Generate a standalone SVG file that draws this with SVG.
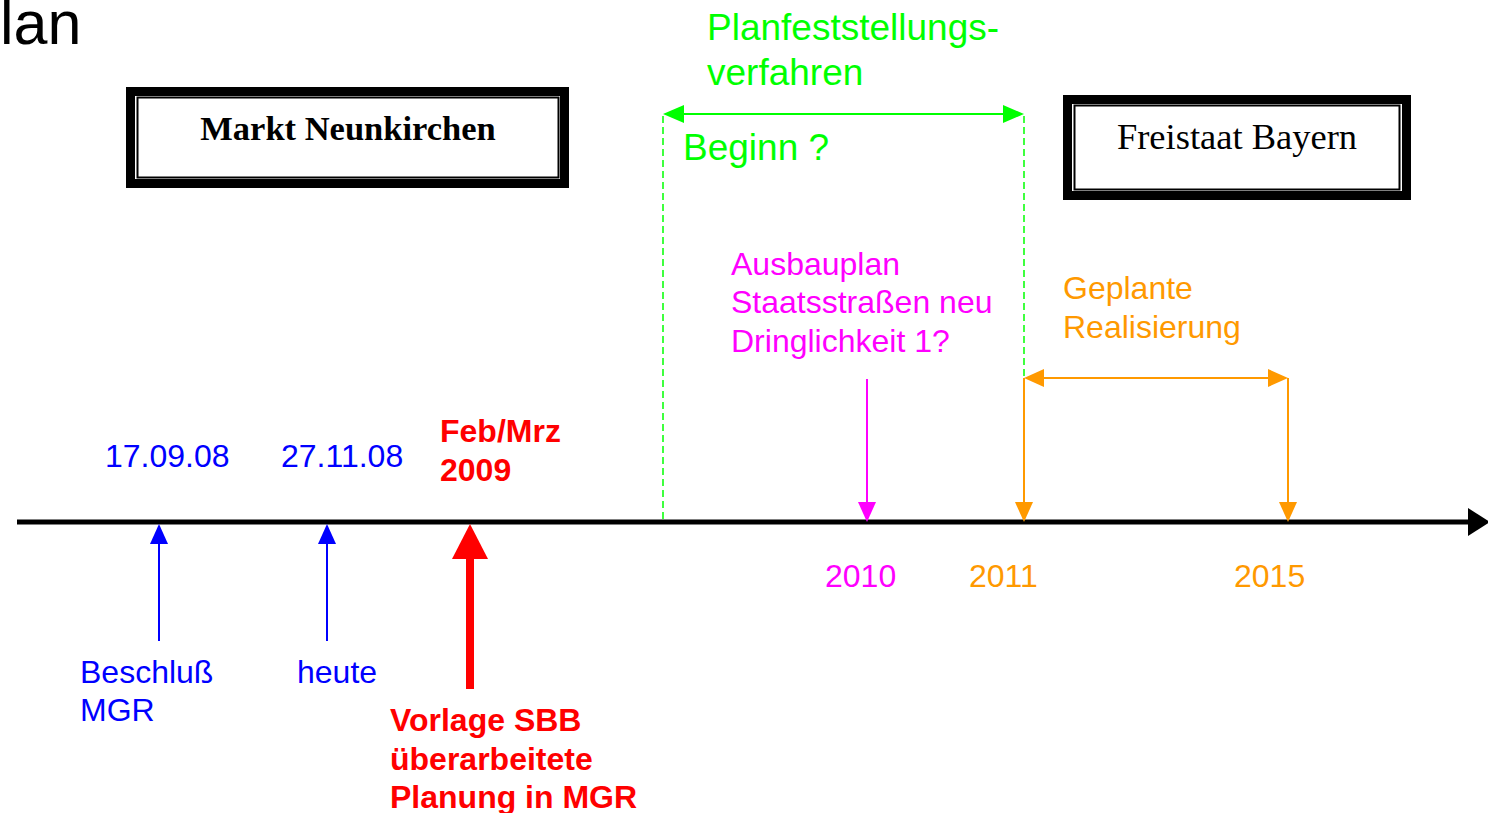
<svg xmlns="http://www.w3.org/2000/svg" width="1488" height="813" viewBox="0 0 1488 813">
<defs>
<style>
.sans{font-family:"Liberation Sans",Arial,sans-serif;}
.serif{font-family:"Liberation Serif","Times New Roman",serif;}
.t32{font-size:32px;}
.t37{font-size:37px;}
.b{font-weight:bold;}
.green{fill:#00FF00;}
.mag{fill:#FF00FF;}
.orange{fill:#FF9900;}
.blue{fill:#0000FF;}
.red{fill:#FF0000;}
.dash{stroke:#00FF00;stroke-width:1.5;stroke-dasharray:7,4;fill:none;}
</style>
</defs>
<rect x="0" y="0" width="1488" height="813" fill="#FFFFFF"/>
<text class="sans" x="0" y="44" font-size="61" fill="#000000">lan</text>

<g id="markt-neunkirchen">
<rect x="130.5" y="91.5" width="434" height="92" fill="#FFFFFF" stroke="#000000" stroke-width="9"/>
<rect x="137.5" y="97.5" width="421" height="80" fill="none" stroke="#000000" stroke-width="2"/>
<text class="serif b" x="348" y="140" font-size="34.5" text-anchor="middle" fill="#000000">Markt Neunkirchen</text>
</g>

<g id="freistaat-bayern">
<rect x="1067.5" y="99.5" width="339" height="96" fill="#FFFFFF" stroke="#000000" stroke-width="9"/>
<rect x="1074.5" y="105.5" width="325" height="84" fill="none" stroke="#000000" stroke-width="2"/>
<text class="serif" x="1237" y="149" font-size="36.5" text-anchor="middle" fill="#000000">Freistaat Bayern</text>
</g>

<g id="connectors">
<line x1="17" y1="522" x2="1470" y2="522" stroke="#000000" stroke-width="5"/>
<polygon points="1468,508 1490,522 1468,536" fill="#000000"/>
<line class="dash" x1="663" y1="116" x2="663" y2="522"/>
<line class="dash" x1="1024" y1="116" x2="1024" y2="378"/>
<line x1="680" y1="114" x2="1007" y2="114" stroke="#00FF00" stroke-width="2"/>
<polygon points="663,114 684,105 684,123" fill="#00FF00"/>
<polygon points="1024,114 1003,105 1003,123" fill="#00FF00"/>
<line x1="867" y1="379" x2="867" y2="505" stroke="#FF00FF" stroke-width="2"/>
<polygon points="858,502 876,502 867,522" fill="#FF00FF"/>
<line x1="1040" y1="378" x2="1272" y2="378" stroke="#FF9900" stroke-width="2"/>
<polygon points="1024,378 1044,369 1044,387" fill="#FF9900"/>
<polygon points="1288,378 1268,369 1268,387" fill="#FF9900"/>
<line x1="1024" y1="378" x2="1024" y2="505" stroke="#FF9900" stroke-width="2"/>
<polygon points="1015,502 1033,502 1024,522" fill="#FF9900"/>
<line x1="1288" y1="378" x2="1288" y2="505" stroke="#FF9900" stroke-width="2"/>
<polygon points="1279,502 1297,502 1288,522" fill="#FF9900"/>
<line x1="159" y1="641" x2="159" y2="540" stroke="#0000FF" stroke-width="2"/>
<polygon points="159,524 168,544 150,544" fill="#0000FF"/>
<line x1="327" y1="641" x2="327" y2="540" stroke="#0000FF" stroke-width="2"/>
<polygon points="327,524 336,544 318,544" fill="#0000FF"/>
<line x1="470" y1="689" x2="470" y2="555" stroke="#FF0000" stroke-width="8"/>
<polygon points="470,524 488,559 452,559" fill="#FF0000"/>
</g>

<g id="planfeststellung-label">
<text class="sans t37 green" x="707" y="40">Planfeststellungs-</text>
<text class="sans t37 green" x="707" y="85">verfahren</text>
<text class="sans t37 green" x="683" y="160">Beginn ?</text>
</g>

<g id="ausbauplan-label">
<text class="sans t32 mag" x="731" y="275">Ausbauplan</text>
<text class="sans t32 mag" x="731" y="313">Staatsstraßen neu</text>
<text class="sans t32 mag" x="731" y="352">Dringlichkeit 1?</text>
<text class="sans t32 mag" x="825" y="587">2010</text>
</g>

<g id="realisierung-label">
<text class="sans t32 orange" x="1063" y="299">Geplante</text>
<text class="sans t32 orange" x="1063" y="338">Realisierung</text>
<text class="sans t32 orange" x="969" y="587">2011</text>
<text class="sans t32 orange" x="1234" y="587">2015</text>
</g>

<g id="beschluss">
<text class="sans t32 blue" x="105" y="467">17.09.08</text>
<text class="sans t32 blue" x="80" y="683">Beschluß</text>
<text class="sans t32 blue" x="80" y="721">MGR</text>
</g>

<g id="heute">
<text class="sans t32 blue" x="281" y="467">27.11.08</text>
<text class="sans t32 blue" x="297" y="683">heute</text>
</g>

<g id="vorlage-sbb">
<text class="sans t32 b red" x="440" y="442">Feb/Mrz</text>
<text class="sans t32 b red" x="440" y="481">2009</text>
<text class="sans t32 b red" x="390" y="731">Vorlage SBB</text>
<text class="sans t32 b red" x="390" y="770">überarbeitete</text>
<text class="sans t32 b red" x="390" y="808">Planung in MGR</text>
</g>
</svg>
